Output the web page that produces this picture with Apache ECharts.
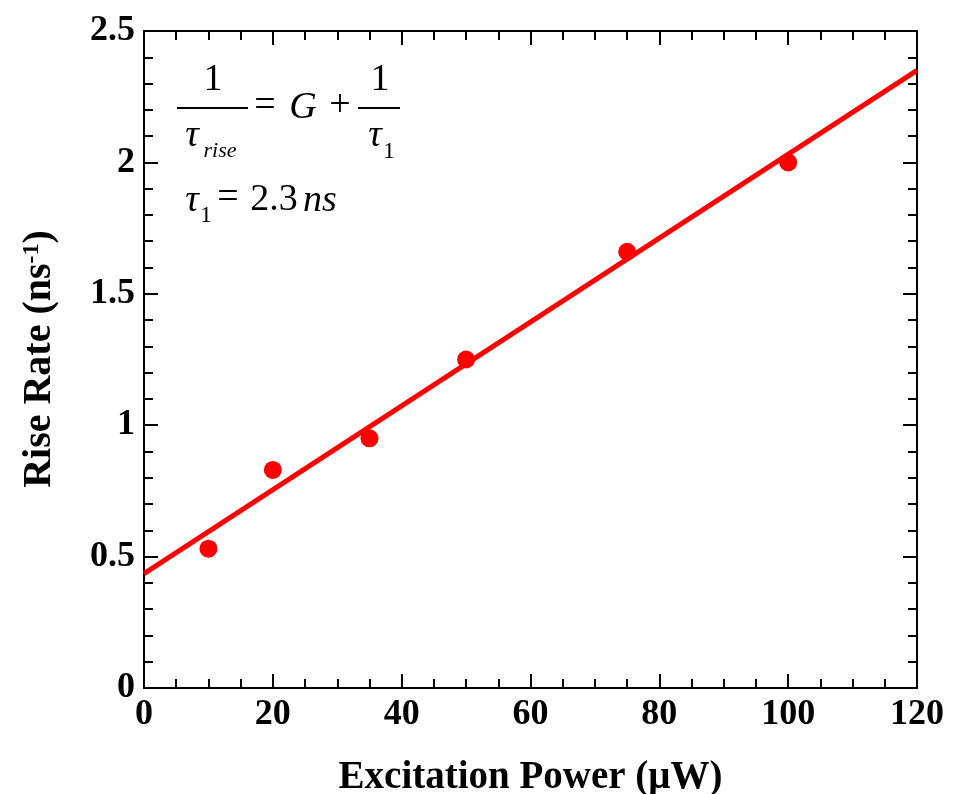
<!DOCTYPE html>
<html><head><meta charset="utf-8">
<script src="https://cdn.jsdelivr.net/npm/echarts@6/dist/echarts.min.js"></script>
<style>html,body{margin:0;padding:0;background:#fff}#c{width:955px;height:794px}</style>
</head><body><div id="c"></div>
<script>
const powers = [10, 20, 35, 50, 75, 100];
const riseRates = [0.53, 0.83, 0.95, 1.25, 1.66, 2.0];
const fitX = [0, 120];
const fitY = [0.435, 2.35];
const xTicks = [0, 20, 40, 60, 80, 100, 120];
const yTicks = [0, 0.5, 1, 1.5, 2, 2.5];

const F = 'Liberation Serif';
const chart = echarts.init(document.getElementById('c'));
const L = 144, R = 38, T = 31, B = 106;
const axisCommon = {
  axisLine: {show: true, onZero: false, lineStyle: {color: '#000', width: 2}},
  axisTick: {show: true, inside: true, length: 14, lineStyle: {color: '#000', width: 2}},
  minorTick: {show: true, length: 9, lineStyle: {color: '#000', width: 2}},
  splitLine: {show: false}
};
const xBase = Object.assign({type: 'value', min: xTicks[0], max: xTicks[xTicks.length-1], interval: 20}, axisCommon);
const yBase = Object.assign({type: 'value', min: yTicks[0], max: yTicks[yTicks.length-1], interval: 0.5}, axisCommon);

const sz = 38;
function txt(x, y, s, size, italic) {
  return {type: 'text', x: x, y: y, style: {text: s, font: (italic ? 'italic ' : '') + size + 'px "' + F + '"',
    fill: '#000', align: 'center', verticalAlign: 'middle'}};
}
chart.setOption({
  animation: false,
  grid: {left: L, right: R, top: T, bottom: B, containLabel: false, outerBoundsMode: 'none'},
  xAxis: [
    Object.assign({}, xBase, {position: 'bottom', minorTick: Object.assign({}, axisCommon.minorTick, {splitNumber: 4}),
      axisLabel: {fontFamily: F, fontWeight: 'bold', fontSize: 36, color: '#000', margin: 9},
      name: 'Excitation Power (\u03bcW)', nameLocation: 'middle', nameGap: 70,
      nameTextStyle: {fontFamily: F, fontWeight: 'bold', fontSize: 39, color: '#000'}}),
    Object.assign({}, xBase, {position: 'top', minorTick: Object.assign({}, axisCommon.minorTick, {splitNumber: 4}), axisLabel: {show: false}})
  ],
  yAxis: [
    Object.assign({}, yBase, {position: 'left', minorTick: Object.assign({}, axisCommon.minorTick, {splitNumber: 5}),
      axisLabel: {fontFamily: F, fontWeight: 'bold', fontSize: 36, color: '#000', margin: 9,
        formatter: v => String(v)}}),
    Object.assign({}, yBase, {position: 'right', minorTick: Object.assign({}, axisCommon.minorTick, {splitNumber: 5}), axisLabel: {show: false}})
  ],
  graphic: [
    {type: 'text', x: 40, y: 359, rotation: Math.PI / 2,
      style: {text: '{n|Rise Rate (ns}{s|-1}{n|)}', align: 'center', verticalAlign: 'middle',
        rich: {n: {fontFamily: F, fontWeight: 'bold', fontSize: 40, color: '#000'},
               s: {fontFamily: F, fontWeight: 'bold', fontSize: 24, color: '#000', verticalAlign: 'top', padding: [0, 0, 16, 0]}}}},
    // formula: 1/tau_rise = G + 1/tau_1
    txt(213, 80, '1', sz, false),
    {type: 'line', shape: {x1: 177, y1: 108, x2: 248, y2: 108}, style: {stroke: '#000', lineWidth: 2}},
    txt(192, 136, '\u03c4', sz, true),
    txt(220, 151, 'rise', 22, true),
    txt(265, 106, '=', sz, false),
    txt(303, 108, 'G', sz, true),
    txt(340, 106, '+', sz, false),
    txt(380, 80, '1', sz, false),
    {type: 'line', shape: {x1: 358, y1: 108, x2: 400, y2: 108}, style: {stroke: '#000', lineWidth: 2}},
    txt(375, 136, '\u03c4', sz, true),
    txt(389, 152, '1', 24, false),
    // tau_1 = 2.3 ns
    txt(192, 201, '\u03c4', sz, true),
    txt(206, 216, '1', 24, false),
    txt(228, 198, '=', sz, false),
    txt(274, 200, '2.3', sz, false),
    txt(320, 201, 'ns', sz, true)
  ],
  series: [
    {type: 'line', xAxisIndex: 0, yAxisIndex: 0, data: fitX.map((x, i) => [x, fitY[i]]),
      symbol: 'none', lineStyle: {color: '#f00', width: 5}, silent: true, z: 3},
    {type: 'scatter', xAxisIndex: 0, yAxisIndex: 0, data: powers.map((x, i) => [x, riseRates[i]]),
      symbol: 'circle', symbolSize: 18, itemStyle: {color: '#f00', opacity: 1}, z: 4}
  ]
});
</script></body></html>
